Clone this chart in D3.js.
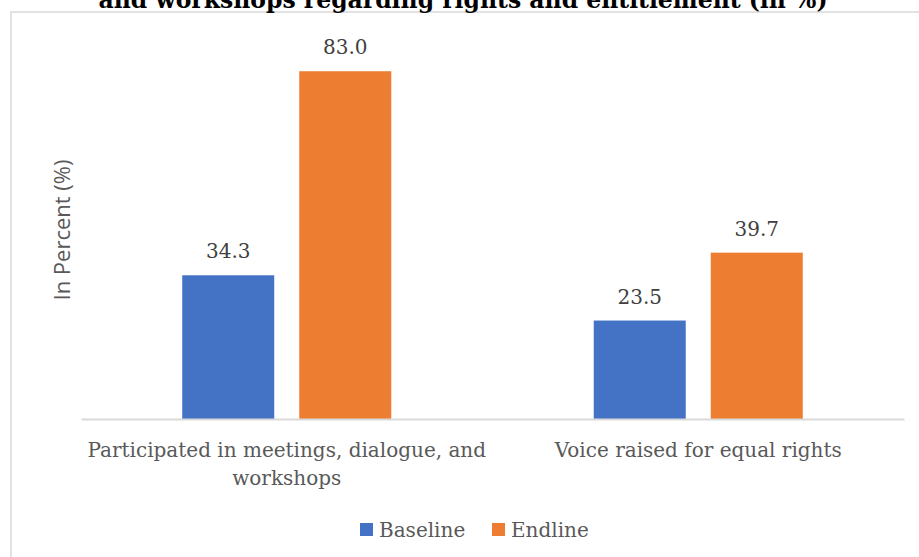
<!DOCTYPE html>
<html>
<head>
<meta charset="utf-8">
<script src="https://cdn.jsdelivr.net/npm/d3@7"></script>
<style>
  html, body { margin: 0; padding: 0; background: #fff; }
  svg { display: block; }
</style>
</head>
<body>
<svg id="chart" width="919" height="557"></svg>
<script>
// Chart data
const categories = ["Participated in meetings, dialogue, and workshops", "Voice raised for equal rights"];
const categoryLines = [["Participated in meetings, dialogue, and", "workshops"], ["Voice raised for equal rights"]];
const seriesNames = ["Baseline", "Endline"];
const baselineValues = [34.3, 23.5];
const endlineValues = [83.0, 39.7];
const seriesColors = ["#4472C4", "#ED7D31"];
const titleText = "and workshops regarding rights and entitlement (in %)";
const yAxisTitle = "In Percent (%)";

const rows = categories.map((c, i) => ({
  category: c,
  values: [
    { series: seriesNames[0], value: baselineValues[i] },
    { series: seriesNames[1], value: endlineValues[i] }
  ]
}));

const svg = d3.select("#chart");
const serif = "'DejaVu Serif', 'Liberation Serif', serif";
const sans = "'Open Sans', 'Noto Sans', sans-serif";

// Outer chart frame (extends past the viewport on right and bottom)
svg.append("rect")
  .attr("x", 11).attr("y", 12)
  .attr("width", 1000).attr("height", 600)
  .attr("fill", "none")
  .attr("stroke", "#d9d9d9")
  .attr("stroke-width", 1.5);

// Title (partly above the top edge)
svg.append("text")
  .attr("x", 463).attr("y", 7.5)
  .attr("text-anchor", "middle")
  .attr("font-family", serif)
  .attr("font-weight", "bold")
  .attr("font-size", 23.5)
  .attr("fill", "#000")
  .text(titleText);

// Scales
const plotLeft = 81, plotRight = 904, plotBottom = 419;
const x0 = d3.scaleBand()
  .domain(categories)
  .range([plotLeft, plotRight])
  .paddingInner(0.492)
  .paddingOuter(0.246);
const x1 = d3.scaleBand()
  .domain(seriesNames)
  .range([0, x0.bandwidth()])
  .paddingInner(0.2137);
const y = d3.scaleLinear().domain([0, 100]).range([plotBottom, 0]);
const color = d3.scaleOrdinal().domain(seriesNames).range(seriesColors);

// Bars
const groups = svg.append("g").selectAll("g")
  .data(rows)
  .join("g")
  .attr("transform", d => `translate(${x0(d.category)},0)`);

groups.selectAll("rect")
  .data(d => d.values)
  .join("rect")
  .attr("x", d => x1(d.series))
  .attr("y", d => y(d.value))
  .attr("width", x1.bandwidth())
  .attr("height", d => y(0) - y(d.value))
  .attr("fill", d => color(d.series));

// Value labels
groups.selectAll("text.value")
  .data(d => d.values)
  .join("text")
  .attr("class", "value")
  .attr("x", d => x1(d.series) + x1.bandwidth() / 2)
  .attr("y", d => y(d.value) - 17)
  .attr("text-anchor", "middle")
  .attr("font-family", serif)
  .attr("font-size", 20)
  .attr("fill", "#404040")
  .text(d => d3.format(".1f")(d.value));

// Category axis
const xAxis = svg.append("g")
  .attr("transform", `translate(0,${plotBottom})`)
  .call(d3.axisBottom(x0).tickSize(0).tickSizeOuter(0));
xAxis.select(".domain")
  .attr("stroke", "#d9d9d9")
  .attr("stroke-width", 2);
xAxis.selectAll(".tick text").remove();
xAxis.selectAll(".tick").each(function(d, i) {
  const t = d3.select(this).append("text")
    .attr("text-anchor", "middle")
    .attr("font-family", serif)
    .attr("font-size", 20)
    .attr("fill", "#595959");
  categoryLines[i].forEach((line, j) => {
    t.append("tspan").attr("x", 0).attr("y", 38 + j * 28).text(line);
  });
});

// Y axis title
svg.append("text")
  .attr("transform", "translate(70,230) rotate(-90)")
  .attr("text-anchor", "middle")
  .attr("font-family", sans)
  .attr("font-size", 22)
  .attr("fill", "#595959")
  .text(yAxisTitle);

// Legend
const legendItems = [
  { name: seriesNames[0], x: 360 },
  { name: seriesNames[1], x: 492 }
];
const legend = svg.append("g").selectAll("g")
  .data(legendItems)
  .join("g")
  .attr("transform", d => `translate(${d.x},523)`);
legend.append("rect")
  .attr("width", 13).attr("height", 13)
  .attr("fill", d => color(d.name));
legend.append("text")
  .attr("x", 19).attr("y", 14)
  .attr("font-family", serif)
  .attr("font-size", 20)
  .attr("fill", "#595959")
  .text(d => d.name);
</script>
</body>
</html>
